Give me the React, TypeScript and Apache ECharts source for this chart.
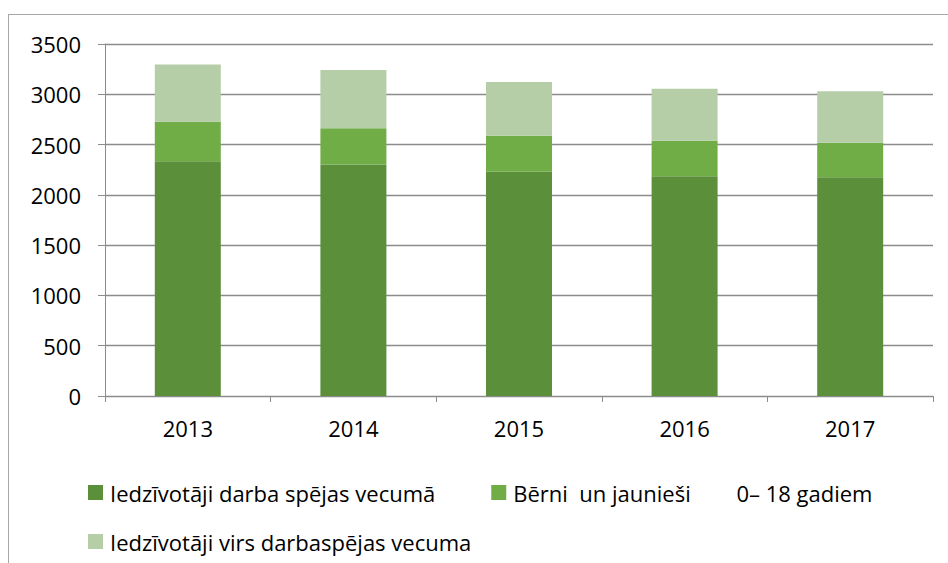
import React, { useEffect, useRef } from "react";
import * as echarts from "echarts";

const categories = ["2013", "2014", "2015", "2016", "2017"];
const seriesNames = [
  "Iedzīvotāji darba spējas vecumā",
  "Bērni  un jaunieši        0– 18 gadiem",
  "Iedzīvotāji virs darbaspējas vecuma",
];
const workingAge = [2335, 2302, 2229, 2186, 2176];
const children = [391, 361, 358, 352, 342];
const retired = [571, 578, 535, 518, 512];
const yTicks = { min: 0, max: 3500, interval: 500 };

const colors = ["#5B8F3A", "#70AD47", "#B5CEA8"];
const FONT = "Open Sans";
const FS = 22;

export default function App() {
  const ref = useRef<HTMLDivElement>(null);
  useEffect(() => {
    if (!ref.current) return;
    const chart = echarts.init(ref.current, undefined, { renderer: "svg" });
    const data = [workingAge, children, retired];
    const legendText = { fontSize: FS, fontFamily: FONT, color: "#000", padding: [0, 0, 7, 2], lineHeight: 22 };
    chart.setOption({
      animation: false,
      backgroundColor: "#ffffff",
      textStyle: { fontFamily: FONT, color: "#000" },
      grid: { left: 105, right: 15, top: 44, bottom: 167, containLabel: false },
      xAxis: {
        type: "category",
        data: categories,
        boundaryGap: true,
        axisLine: { show: true, lineStyle: { color: "#8c8c8c", width: 1 } },
        axisTick: { show: true, length: 6, alignWithLabel: false, lineStyle: { color: "#8c8c8c" } },
        axisLabel: { color: "#000", fontSize: FS, fontFamily: FONT, margin: 21 },
      },
      yAxis: {
        type: "value",
        min: yTicks.min,
        max: yTicks.max,
        interval: yTicks.interval,
        axisLine: { show: true, lineStyle: { color: "#8c8c8c", width: 1 } },
        axisTick: { show: true, length: 7, lineStyle: { color: "#8c8c8c" } },
        axisLabel: {
          color: "#000",
          fontSize: FS,
          fontFamily: FONT,
          margin: 24,
          formatter: (v: number) => String(v),
        },
        splitLine: { show: true, lineStyle: { color: "#8c8c8c", width: 1.3 } },
      },
      legend: [
        {
          show: true,
          left: 83,
          top: 473,
          itemWidth: 15,
          itemHeight: 15,
          itemGap: 56,
          icon: "rect",
          textStyle: legendText,
          data: [seriesNames[0], seriesNames[1]],
        },
        {
          show: true,
          left: 83,
          top: 522,
          itemWidth: 15,
          itemHeight: 15,
          icon: "rect",
          textStyle: legendText,
          data: [seriesNames[2]],
        },
      ],
      series: seriesNames.map((name, i) => ({
        name,
        type: "bar",
        stack: "total",
        barWidth: 66,
        data: data[i],
        itemStyle: { color: colors[i] },
      })),
      graphic: [
        {
          type: "line",
          shape: { x1: 8, y1: 14.5, x2: 948, y2: 14.5 },
          style: { stroke: "#a6a6a6", lineWidth: 1 },
        },
        {
          type: "line",
          shape: { x1: 8.5, y1: 14, x2: 8.5, y2: 563 },
          style: { stroke: "#a6a6a6", lineWidth: 1 },
        },
      ],
    });
    return () => chart.dispose();
  }, []);
  return (
    <div
      ref={ref}
      style={{ position: "fixed", left: 0, top: 0, width: 948, height: 563 }}
    />
  );
}
